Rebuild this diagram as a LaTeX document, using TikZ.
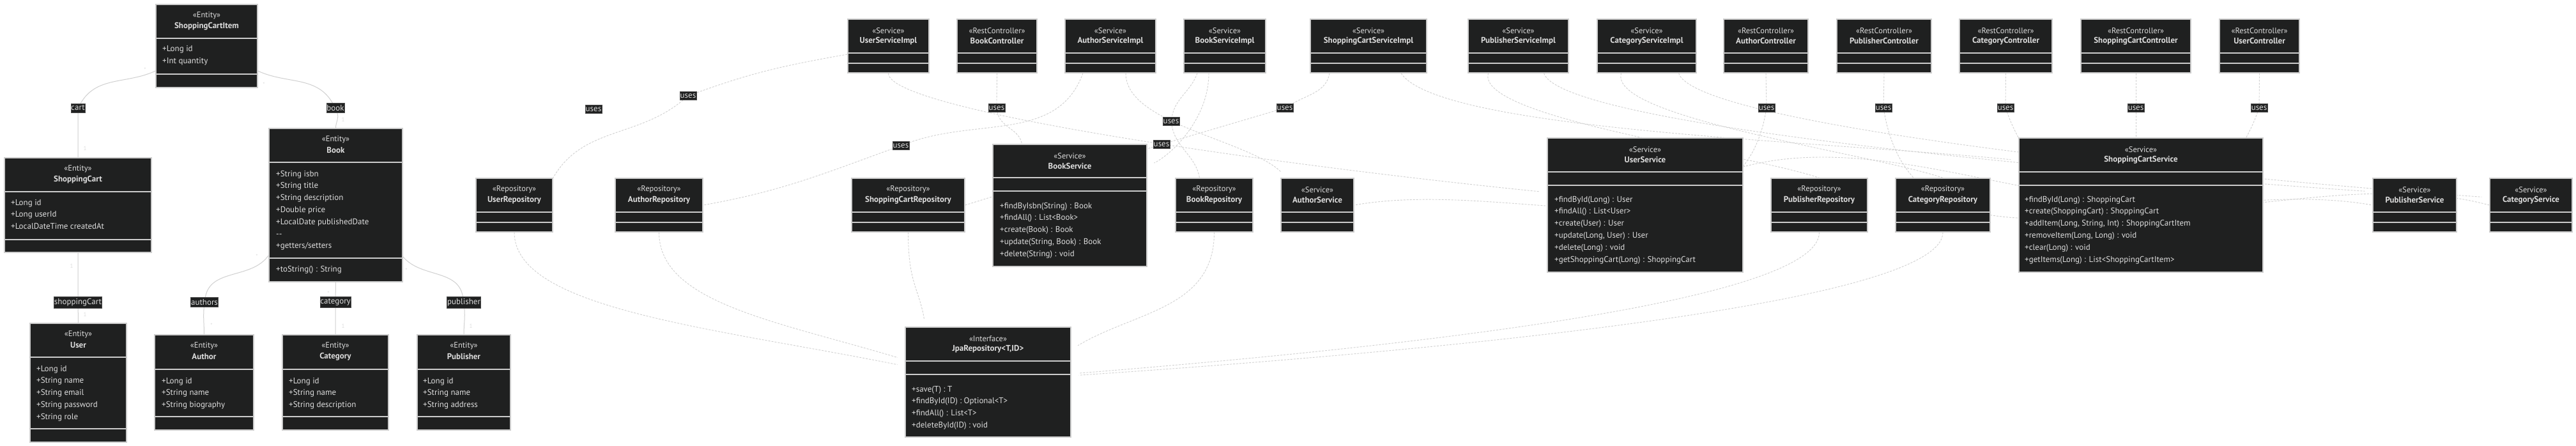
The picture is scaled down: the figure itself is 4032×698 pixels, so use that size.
\documentclass[tikz,border=0pt]{standalone}
\usepackage{fontspec}
\setmainfont{PT Sans}
\usetikzlibrary{calc,fit,positioning}
\definecolor{boxfill}{HTML}{1F2020}
\definecolor{boxline}{HTML}{CCCCCC}
\definecolor{boxtext}{HTML}{DDDDDD}
\definecolor{edgeline}{HTML}{D0D0D0}
\definecolor{multtext}{HTML}{DEDEDE}
\pgfdeclarelayer{background}
\pgfdeclarelayer{edges}
\pgfsetlayers{background,edges,main}
\tikzset{
  classbox/.style={draw=boxline, fill=boxfill, line width=1.4pt, inner sep=0pt},
  divider/.style={draw=boxline, line width=1.4pt},
  stereo/.style={text=boxtext, font=\fontsize{12.5}{14}\selectfont, inner sep=0pt},
  cname/.style={text=boxtext, font=\bfseries\fontsize{13}{15}\selectfont, inner sep=0pt},
  member/.style={text=boxtext, font=\fontsize{13}{15}\selectfont, anchor=west,
    inner sep=0pt, text height=9pt, text depth=3pt},
  edgelabel/.style={fill=boxfill, draw=gray!60!black, line width=0.4pt, text=boxtext,
    font=\fontsize{13}{15}\selectfont, inner xsep=0.5pt, inner ysep=3pt},
  mult/.style={text=multtext, font=\fontsize{9}{10}\selectfont, inner sep=0pt},
  assoc/.style={draw=edgeline, line width=1pt},
  usesline/.style={draw=edgeline, line width=0.9pt, dash pattern=on 3pt off 2pt},
  realline/.style={usesline, shorten >=12pt},
}
% box: (left,top,right,bottom){name}{stereotype}{class}{div1}{div2}
\def\ClassBox(#1,#2,#3,#4)#5#6#7#8#9{%
  \node[classbox, fit={(#1,#2) (#3,#4)}] (#5) {};
  \draw[divider] (#1,#8) -- (#3,#8);
  \draw[divider] (#1,#9) -- (#3,#9);
  \node[stereo] (#5 st) at ($(#5.north)+(0,18.5)$) {«#6»};
  \node[cname] (#5 nm) at ($(#5.north)+(0,35)$) {#7};
}
% member lines: (x,y of first line){prefix}{lines}
\def\Members(#1,#2)#3#4{%
  \foreach \m [count=\i] in {#4}
    \node[member] (#3-\i) at ({#1},{#2+(\i-1)*18.8}) {\m};
}
\begin{document}
\begin{tikzpicture}[x=1pt,y=-1pt]
  \useasboundingbox (0,0) rectangle (4032,698);
  \begin{pgfonlayer}{background}
    \fill[white] (0,0) rectangle (4032,698);
  \end{pgfonlayer}
  % Entities
  \ClassBox(244,7,403,137){ShoppingCartItem}{Entity}{ShoppingCartItem}{60}{116}
  \Members(254,78){ShoppingCartItem}{+Long id,+Int quantity}
  \ClassBox(7,247,237,395){ShoppingCart}{Entity}{ShoppingCart}{300}{375}
  \Members(17,318){ShoppingCart}{+Long id,+Long userId,+LocalDateTime createdAt}
  \ClassBox(421,201,630,441){Book}{Entity}{Book}{254}{404}
  \Members(432,273){Book}{+String isbn,+String title,+String description,+Double price,
    +LocalDate publishedDate,{-}{-},+getters/setters}
  \Members(432,422){Book-op}{+toString() : String}
  \ClassBox(47,506,198,692){User}{Entity}{User}{559}{671}
  \Members(57,578){User}{+Long id,+String name,+String email,+String password,+String role}
  \ClassBox(242,524,397,673){Author}{Entity}{Author}{578}{652}
  \Members(253,597){Author}{+Long id,+String name,+String biography}
  \ClassBox(442,524,608,673){Category}{Entity}{Category}{578}{652}
  \Members(452,597){Category}{+Long id,+String name,+String description}
  \ClassBox(653,524,799,673){Publisher}{Entity}{Publisher}{578}{652}
  \Members(662,597){Publisher}{+Long id,+String name,+String address}
  % Services and controllers, top row
  \foreach \l/\r/\n/\s in {1327/1454/UserServiceImpl/Service,
      1498/1623/BookController/RestController, 1667/1809/AuthorServiceImpl/Service,
      1853/1981/BookServiceImpl/Service, 2051/2233/ShoppingCartServiceImpl/Service,
      2298/2455/PublisherServiceImpl/Service, 2500/2655/CategoryServiceImpl/Service,
      2698/2830/AuthorController/RestController, 2875/3023/PublisherController/RestController,
      3067/3212/CategoryController/RestController,
      3257/3429/ShoppingCartController/RestController, 3474/3599/UserController/RestController}
    \ClassBox(\l,30,\r,114){\n}{\s}{\n}{83}{99}
  % Repositories and small services
  \foreach \l/\r/\n/\s in {745/865/UserRepository/Repository,
      963/1100/AuthorRepository/Repository, 1333/1510/ShoppingCartRepository/Repository,
      1840/1961/BookRepository/Repository, 2005/2119/AuthorService/Service,
      2772/2923/PublisherRepository/Repository, 2967/3115/CategoryRepository/Repository,
      3714/3845/PublisherService/Service, 3897/4026/CategoryService/Service}
    \ClassBox(\l,279,\r,363){\n}{\s}{\n}{332}{348}
  % Services with methods
  \ClassBox(1554,226,1795,417){BookService}{Service}{BookService}{278}{299}
  \Members(1565,323){BookService}{+findByIsbn(String) : Book,+findAll() : List<Book>,
    +create(Book) : Book,{+update(String, Book) : Book},+delete(String) : void}
  \ClassBox(2422,216,2728,426){UserService}{Service}{UserService}{269}{290}
  \Members(2433,313){UserService}{+findById(Long) : User,+findAll() : List<User>,
    +create(User) : User,{+update(Long, User) : User},+delete(Long) : void,
    +getShoppingCart(Long) : ShoppingCart}
  \ClassBox(3160,216,3542,426){ShoppingCartService}{Service}{ShoppingCartService}{269}{290}
  \Members(3169,313){ShoppingCartService}{+findById(Long) : ShoppingCart,
    +create(ShoppingCart) : ShoppingCart,{+addItem(Long, String, Int) : ShoppingCartItem},
    {+removeItem(Long, Long) : void},+clear(Long) : void,+getItems(Long) : List<ShoppingCartItem>}
  \ClassBox(1417,512,1676,684){JpaRepository}{Interface}{JpaRepository<T,ID>}{565}{586}
  \Members(1427,610){JpaRepository}{+save(T) : T,+findById(ID) : Optional<T>,
    +findAll() : List<T>,+deleteById(ID) : void}
  % Labels on the associations
  \node[edgelabel] (lcart) at (122,169) {cart};
  \node[edgelabel] (lbook) at (525,169) {book};
  \node[edgelabel] (lshop) at (122,473) {shoppingCart};
  \node[edgelabel] (lauthors) at (320,473) {authors};
  \node[edgelabel] (lcategory) at (525,473) {category};
  \node[edgelabel] (lpublisher) at (726,473) {publisher};
  \foreach \n/\x/\y in {uA/929/171, uB/1077/150, uC/1560/169, uD/1410/228, uE/1833/190,
      uF/2011/169, uG/1818/226, uH/2765/169, uI/2948/169, uJ/3139/169, uK/3343/169,
      uL/3536/169}
    \node[edgelabel] (\n) at (\x,\y) {uses};
  % Multiplicities
  \foreach \n/\x/\y/\t in {m1/227/109/*, m2/133/232/1, m3/413/132/*, m4/537/187/1,
      m5/112/416/1, m6/133/492/1, m7/402/401/*, m8/331/509/*, m9/514/459/*,
      m10/537/510/1, m11/636/423/*, m12/737/510/1}
    \node[mult] (\n) at (\x,\y) {\t};
  \begin{pgfonlayer}{edges}
    % Associations between entities
    \draw[assoc] ([yshift=-39pt]ShoppingCartItem.west) to[out=205,in=60] (lcart)
      to[out=-90,in=90] (ShoppingCart.north);
    \draw[assoc] ([yshift=-39pt]ShoppingCartItem.east) to[out=-25,in=120] (lbook)
      to[out=-70,in=90] (Book.north);
    \draw[assoc] (ShoppingCart.south) -- (lshop) -- (User.north);
    \draw[assoc] ([yshift=42pt]Book.south west) to[out=235,in=80] (lauthors)
      to[out=-95,in=90] (Author.north);
    \draw[assoc] (Book.south) -- (lcategory) -- (Category.north);
    \draw[assoc] ([yshift=40pt]Book.south east) to[out=-50,in=100] (lpublisher)
      to[out=-85,in=90] (Publisher.north);
    % Repositories realize JpaRepository
    \draw[realline] (UserRepository.south) .. controls +(0,120) and +(-300,-60) ..
      ([yshift=25pt]JpaRepository.west);
    \draw[realline] (AuthorRepository.south) .. controls +(0,110) and +(-200,-60) ..
      ([yshift=35pt]JpaRepository.west);
    \draw[realline] (ShoppingCartRepository.south) .. controls +(0,80) and +(-10,-60) ..
      ([xshift=-98pt]JpaRepository.north);
    \draw[realline] (BookRepository.south) .. controls +(0,120) and +(100,-60) ..
      ([yshift=51pt]JpaRepository.east);
    \draw[realline] (PublisherRepository.south) .. controls +(0,110) and +(500,-40) ..
      ([yshift=13pt]JpaRepository.east);
    \draw[realline] (CategoryRepository.south) .. controls +(0,110) and +(600,-40) ..
      ([yshift=10pt]JpaRepository.east);
    % Implementations realize services
    \draw[realline] (UserServiceImpl.south) .. controls +(0,60) and +(-400,-40) ..
      ([yshift=20pt]UserService.west);
    \draw[realline] ([xshift=24pt]AuthorServiceImpl.south) .. controls +(0,80) and +(-60,-60) ..
      ([xshift=10pt]AuthorService.north west);
    \draw[realline] ([xshift=-25pt]BookServiceImpl.south) .. controls +(0,70) and +(40,-20) ..
      ([yshift=61pt]BookService.east);
    \draw[realline] ([xshift=51pt]ShoppingCartServiceImpl.south) .. controls +(60,90) and +(-300,-30) ..
      ([yshift=70pt]ShoppingCartService.west);
    \draw[realline] ([xshift=40pt]PublisherServiceImpl.south) .. controls +(30,90) and +(-300,-20) ..
      ([yshift=21pt]PublisherService.west);
    \draw[realline] ([xshift=50pt]CategoryServiceImpl.south) .. controls +(30,90) and +(-300,-20) ..
      ([yshift=12pt]CategoryService.west);
    % Implementations use repositories
    \draw[usesline] ([yshift=-13pt]UserServiceImpl.west) to[out=190,in=20] (uB)
      to[out=-140,in=60] (UserRepository.north east);
    \draw[usesline] ([xshift=-43pt]AuthorServiceImpl.south) to[out=-110,in=20] (uD)
      to[out=-160,in=10] (AuthorRepository.east);
    \draw[usesline] ([xshift=-43pt]BookServiceImpl.south) to[out=-110,in=80] (uE)
      to[out=-80,in=100] ([xshift=-23pt]BookRepository.north);
    \draw[usesline] ([xshift=-61pt]ShoppingCartServiceImpl.south) to[out=-100,in=30] (uF)
      -- (uG) -- (ShoppingCartRepository.east);
    \draw[usesline] ([xshift=-47pt]PublisherServiceImpl.south) .. controls +(-20,70) and +(-120,-40) ..
      (PublisherRepository.north);
    \draw[usesline] ([xshift=-40pt]CategoryServiceImpl.south) .. controls +(-20,70) and +(-120,-40) ..
      (CategoryRepository.north);
    % Controllers use services
    \draw[usesline] (BookController.south) to[out=-90,in=90] (uC)
      to[out=-80,in=100] ([xshift=-75pt]BookService.north);
    \draw[usesline] (AuthorController.south) -- (uH) to[out=-100,in=10] (AuthorService.east);
    \draw[usesline] (PublisherController.south) -- (uI) to[out=-80,in=170] (PublisherService.west);
    \draw[usesline] (CategoryController.south) -- (uJ) to[out=-70,in=165] (CategoryService.west);
    \draw[usesline] (ShoppingCartController.south) -- (uK) -- ([xshift=-8pt]ShoppingCartService.north);
    \draw[usesline] (UserController.south) -- (uL) to[out=-110,in=15] ([yshift=60pt]UserService.east);
  \end{pgfonlayer}
\end{tikzpicture}
\end{document}
